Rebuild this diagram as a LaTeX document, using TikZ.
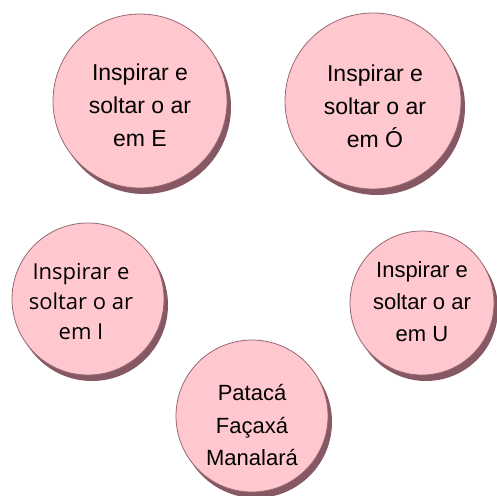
\documentclass[tikz,border=0pt]{standalone}
\usepackage{fontspec}
\setmainfont{Liberation Sans}
\newfontfamily\opensans{Open Sans}
\usetikzlibrary{shadows}
\definecolor{pinkf}{RGB}{255,199,206}
\definecolor{outl}{RGB}{150,104,116}
\definecolor{shad}{RGB}{134,88,100}
\begin{document}
\begin{tikzpicture}[x=1pt,y=-1pt,
  bubble/.style={circle, draw=outl, line width=0.8pt, fill=pinkf, inner sep=0pt,
    minimum size=#1, general shadow={shadow xshift=4pt, shadow yshift=-6pt, fill=shad}},
  txt/.style={align=center, inner sep=0pt, font=\fontsize{23}{33}\selectfont},
  txto/.style={align=center, inner sep=0pt, font=\opensans\fontsize{22}{30}\selectfont}]
\useasboundingbox (0,0) rectangle (497,495);
\node[bubble=174pt] (e) at (140,101) {};
\node[bubble=176pt] (o) at (373,101) {};
\node[bubble=152pt] (i) at (88,299) {};
\node[bubble=144pt] (u) at (422,303) {};
\node[bubble=152pt] (p) at (252,416) {};
\node[txt] (te) at (140,105) {Inspirar e\\soltar o ar\\em E};
\node[txt] (to) at (375,106) {Inspirar e\\soltar o ar\\em Ó};
\node[txto] (ti) at (81,302) {Inspirar e\\soltar o ar\\em I};
\node[txt,font=\fontsize{22}{32}\selectfont] (tu) at (422,302) {Inspirar e\\soltar o ar\\em U};
\node[txt,font=\fontsize{22}{32}\selectfont] (tp) at (252,425) {Patacá\\Façaxá\\Manalará};
\end{tikzpicture}
\end{document}
